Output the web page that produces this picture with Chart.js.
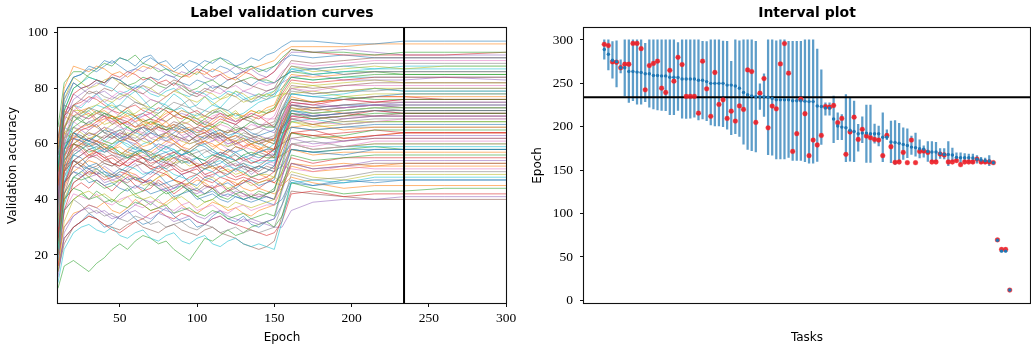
<!DOCTYPE html>
<html><head><meta charset="utf-8">
<script src="https://cdn.jsdelivr.net/npm/chart.js@4"></script>
<style>
html,body{margin:0;padding:0;background:#fff;width:1031px;height:345px;overflow:hidden}
#c1{position:absolute;left:0;top:0}
#c2{position:absolute;left:520px;top:0}
</style></head><body>
<canvas id="c1" width="520" height="345"></canvas>
<canvas id="c2" width="511" height="345"></canvas>
<script>
// ---------- data: left panel ----------
const epochs = [10,14,20,25,30,35,40,45,50,55,60,65,70,75,80,85,90,95,100,105,110,115,120,125,130,135,140,145,150,155,161,175,195,215,234,260,300];
const curves = [
[55,78,84, 85,88,87,90,89,91,90,88,91,92,89,90,87,89,86,88,90,89,91,90,88,89,91,90,92,93, 95,97, 97,96,96,97,97,97],
[60,80,88, 87,86,88,87,85,86,84,86,88,87,89,88,86,85,84,86,85,87,86,84,83,85,87,88,89,90, 93,95, 95,95,96,96,96,96],
[50,72,80, 82,85,87,89,88,91,90,92,89,88,86,87,85,84,86,85,88,90,91,89,88,87,88,86,87,88, 91,94, 93,93,92,93,93,93],
[45,70,78, 80,81,83,82,85,84,86,85,83,84,82,83,81,84,85,87,86,84,85,83,84,86,85,83,84,86, 90,94, 93,92,92,92,92,93],
[42,68,76, 78,80,82,81,84,83,85,87,86,88,87,85,84,86,85,87,84,83,85,86,88,86,87,85,84,86, 89,93, 93,94,93,92,92,92],
[40,65,74, 76,79,78,80,79,82,81,79,78,80,82,81,83,82,79,78,80,79,81,80,82,83,81,80,79,80, 85,90, 89,90,91,91,91,91],
[35,62,72, 74,76,77,75,77,79,78,80,78,76,75,77,79,81,80,78,77,79,78,80,81,79,80,82,81,82, 86,89, 88,89,90,90,90,90],
[38,60,70, 71,73,72,70,72,74,73,75,74,72,71,73,75,74,76,73,72,71,73,72,74,76,75,77,76,78, 83,88, 87,88,89,89,89,89],
[44,66,74, 71,73,74,76,75,77,78,76,74,73,75,77,79,78,76,75,77,74,76,78,77,75,76,78,77,79, 83,88, 86,87,88,87,88,88],
[30,58,68, 70,72,74,73,75,72,71,69,71,73,75,74,72,73,71,70,72,74,73,72,70,71,73,75,76,77, 82,87, 85,86,87,87,87,87],
[52,74,82, 80,81,83,82,84,83,81,80,82,84,83,85,84,82,81,83,82,80,81,83,84,82,81,83,82,82, 84,86, 87,85,86,86,86,86],
[33,55,64, 66,67,66,68,70,69,71,70,68,67,69,71,72,70,69,68,66,68,70,69,71,70,72,71,73,74, 80,85, 84,85,86,86,86,86],
[36,58,66, 68,70,72,71,69,70,72,70,68,69,71,73,72,70,69,67,69,71,72,70,71,69,70,72,71,73, 79,84, 83,84,85,85,85,85],
[28,52,62, 65,66,68,70,69,67,68,70,71,69,68,70,72,70,69,67,66,67,69,68,67,69,70,69,71,72, 78,83, 82,83,84,84,84,84],
[48,70,78, 76,75,78,79,77,76,78,80,81,79,78,80,82,80,78,77,79,81,80,78,77,79,78,77,79,80, 82,84, 85,83,83,83,84,83],
[26,50,60, 62,64,63,62,64,65,63,61,62,64,66,65,63,62,61,63,64,62,63,65,64,66,65,66,67,68, 75,81, 80,81,82,82,82,82],
[40,60,68, 66,65,67,69,68,66,65,64,66,67,65,64,66,68,67,65,64,65,67,66,64,65,67,66,68,70, 76,80, 79,81,81,81,81,81],
[34,56,64, 66,68,66,64,63,61,62,64,66,65,63,64,66,65,63,61,62,64,63,61,62,64,63,61,62,63, 72,80, 78,79,79,80,80,80],
[46,66,72, 72,70,71,73,74,72,70,71,73,72,70,68,70,72,71,69,70,72,73,71,69,70,72,71,72,73, 77,80, 81,79,80,80,80,80],
[22,46,56, 58,60,58,57,59,61,60,58,57,55,57,59,58,56,57,59,60,58,56,55,57,58,56,57,58,60, 70,78, 77,78,80,79,79,79],
[38,58,64, 62,61,63,65,64,62,63,65,66,64,63,62,64,66,65,63,62,64,65,63,64,66,64,63,64,65, 72,78, 77,76,77,78,78,78],
[30,50,58, 60,62,61,59,58,60,62,61,59,60,62,63,61,59,58,60,61,59,60,62,61,59,60,58,60,62, 70,77, 75,76,77,77,77,77],
[42,62,70, 68,67,69,71,70,68,66,64,66,68,67,65,66,68,70,69,67,66,68,67,65,66,68,67,66,66, 72,76, 75,77,76,76,76,76],
[25,45,54, 56,58,57,55,53,52,54,56,55,53,54,56,57,55,54,52,53,55,57,56,54,55,53,54,56,58, 68,75, 74,76,75,76,76,76],
[35,55,62, 61,59,60,62,64,63,61,60,62,61,59,58,60,62,63,61,60,61,63,62,60,61,62,63,62,62, 69,75, 74,73,74,75,75,75],
[20,42,52, 54,56,55,53,52,54,56,55,53,52,54,53,55,56,54,52,51,53,55,54,52,53,51,52,54,56, 66,74, 73,74,75,75,75,75],
[48,66,72, 70,69,71,73,72,70,69,68,70,71,69,68,70,72,71,69,68,70,71,69,68,70,71,70,69,69, 72,74, 75,73,74,74,74,74],
[28,48,57, 59,61,60,58,56,55,57,59,58,56,57,59,60,58,56,57,58,56,55,57,59,58,56,57,58,58, 67,74, 72,73,74,74,74,74],
[32,52,60, 62,64,63,61,60,62,64,63,61,60,62,64,63,61,60,61,63,62,60,59,61,62,60,61,62,61, 67,73, 71,72,73,73,73,73],
[18,38,48, 50,52,51,49,48,50,52,51,49,50,52,51,49,48,47,49,51,50,48,49,51,50,48,49,50,52, 63,72, 71,72,73,73,73,73],
[40,58,64, 63,61,60,58,60,62,61,59,57,58,60,59,57,56,58,60,59,57,56,58,57,55,56,55,56,56, 65,72, 70,71,72,72,72,72],
[24,44,52, 54,56,58,59,57,56,58,60,58,57,59,61,60,58,57,59,61,60,58,57,59,58,56,58,59,58, 66,72, 73,71,72,72,72,72],
[36,54,60, 59,57,58,60,59,57,55,56,58,57,55,54,56,58,57,55,54,56,55,53,54,56,57,56,55,55, 63,71, 69,70,71,71,71,71],
[16,36,46, 48,50,49,47,48,50,49,47,46,48,50,49,47,46,48,49,47,46,48,47,45,46,48,47,48,50, 61,70, 69,70,72,71,71,71],
[44,62,66, 65,63,64,66,65,63,62,61,63,64,62,61,63,62,60,61,63,64,62,60,61,63,62,61,62,61, 66,70, 71,69,70,70,70,70],
[26,46,54, 53,51,52,54,53,51,50,52,53,51,50,52,53,51,50,49,51,52,50,49,51,52,51,50,52,51, 60,69, 67,69,70,70,70,70],
[30,50,58, 57,55,56,58,57,55,53,54,56,55,53,52,54,56,55,53,52,54,55,53,52,54,55,54,54,53, 61,69, 68,67,68,69,69,69],
[50,66,70, 69,66,67,64,65,67,63,62,64,66,63,61,62,65,63,60,61,63,62,59,60,62,61,60,61,62, 66,69, 70,68,69,69,69,69],
[20,40,48, 50,48,51,49,46,47,49,48,45,46,48,50,47,45,46,44,47,48,46,44,45,47,45,46,47,48, 58,68, 66,67,68,68,68,68],
[38,56,62, 61,60,57,58,59,56,55,57,58,55,53,55,56,53,54,55,52,53,54,52,51,53,52,51,53,54, 61,68, 69,67,68,68,68,68],
[34,52,56, 55,52,53,50,49,51,50,47,48,50,49,46,47,49,46,45,48,47,45,46,44,46,47,45,46,47, 56,66, 65,66,67,67,67,67],
[56,70,68, 70,71,68,69,70,67,68,66,67,65,66,68,65,64,65,63,64,66,63,62,63,61,62,60,61,62, 64,66, 67,65,66,66,66,66],
[22,42,48, 47,48,46,44,45,47,45,42,43,46,44,42,43,45,43,41,42,44,41,40,42,43,41,40,42,43, 53,64, 62,63,65,65,65,65],
[40,56,60, 59,56,57,55,56,54,52,54,55,52,51,53,52,50,51,52,49,50,52,50,48,49,51,49,50,52, 58,64, 65,62,63,64,64,64],
[28,46,52, 51,48,49,46,47,48,45,44,46,47,44,43,44,46,43,42,44,45,42,41,43,42,40,41,42,43, 52,62, 60,61,63,63,63,63],
[62,74,72, 70,69,71,70,67,69,68,66,68,69,66,65,67,66,64,66,65,63,64,62,63,62,60,61,59,58, 60,62, 63,61,62,62,62,62],
[18,36,42, 41,40,42,39,38,40,41,38,37,39,40,37,36,38,39,36,37,38,36,35,37,38,36,37,38,38, 48,60, 58,59,61,61,61,61],
[46,60,62, 61,58,59,57,58,56,55,57,55,54,56,53,52,54,55,52,53,54,51,52,53,51,50,52,51,50, 55,60, 61,59,60,60,60,60],
[14,32,40, 42,43,41,42,40,39,41,42,40,41,39,38,40,41,39,37,39,40,38,37,39,38,37,38,39,40, 50,60, 58,59,60,60,60,60],
[52,66,64, 62,61,63,61,60,61,59,58,60,61,58,57,58,56,57,58,55,56,57,55,54,56,54,53,54,54, 56,60, 58,59,59,59,59,59],
[30,46,50, 49,46,47,45,46,44,43,45,44,42,43,44,41,42,43,40,41,42,40,39,41,40,39,40,41,40, 48,58, 57,56,58,58,58,58],
[58,72,70, 72,73,71,72,70,69,70,68,69,67,68,66,67,65,66,64,65,63,64,62,60,61,59,58,57,55, 56,58, 56,57,57,57,57,57],
[24,40,44, 43,40,41,39,40,38,37,39,38,36,37,38,35,36,37,35,34,36,35,33,34,35,33,34,35,34, 44,56, 54,55,56,56,56,56],
[44,58,60, 58,55,56,54,55,53,52,54,53,51,52,50,51,49,50,51,48,49,50,48,47,48,47,46,47,46, 49,55, 53,55,55,55,55,55],
[12,28,34, 36,37,35,36,34,33,35,36,34,33,35,34,32,33,34,32,31,33,34,32,31,33,32,31,32,33, 43,53, 51,52,54,54,54,54],
[36,50,54, 52,49,50,48,49,47,46,48,47,45,46,44,45,46,44,43,45,44,42,43,44,42,41,42,41,40, 46,53, 51,52,53,53,53,53],
[60,72,74, 72,71,69,70,68,69,67,66,67,65,66,64,65,63,64,62,63,61,62,60,61,59,60,58,57,55, 52,51, 50,52,51,51,51,51],
[20,36,40, 38,35,36,34,35,33,32,34,33,31,32,30,31,32,30,29,31,30,28,29,30,28,29,28,29,30, 38,49, 47,48,50,50,50,50],
[48,62,64, 62,59,60,58,59,57,56,57,55,56,54,55,53,54,52,53,51,52,50,51,49,50,48,49,49,48, 46,50, 48,47,49,49,49,49],
[10,22,28, 30,31,29,28,30,27,26,28,29,26,25,27,28,25,24,26,27,24,23,25,26,24,23,24,23,22, 32,46, 47,46,48,48,48,48],
[38,52,54, 52,51,49,50,48,49,47,48,46,47,45,46,44,45,43,44,42,43,41,42,41,40,41,40,39,38, 40,47, 45,46,47,47,47,47],
[54,64,62, 60,59,61,60,58,59,57,56,57,55,56,54,55,53,54,52,53,51,52,50,51,49,48,49,48,46, 45,48, 46,44,45,45,45,45],
[8,16,18, 16,14,17,19,22,24,22,25,27,26,24,25,22,20,18,22,26,25,27,29,27,28,30,31,32,30, 34,46, 44,42,43,43,44,44],
[16,26,30, 32,34,33,31,29,28,30,32,33,35,36,34,33,35,34,32,31,33,34,32,31,30,29,28,27,28, 32,42, 43,41,42,42,42,42],
[20,30,34, 36,38,37,35,33,34,36,38,40,39,37,36,35,37,36,34,33,35,36,34,33,32,33,32,31,30, 30,36, 39,40,40,41,41,41],
[14,24,30, 32,34,33,31,30,29,31,32,30,29,28,30,31,29,28,27,29,30,28,27,26,24,23,22,23,25, 34,43, 42,41,40,40,40,40],
[26,42,48, 50,52,51,49,47,46,48,49,47,46,45,43,44,46,45,43,42,44,45,43,42,41,42,41,41,40, 48,60, 59,61,62,62,62,62],
[60,76,82, 80,78,79,77,76,78,77,75,74,76,75,73,72,74,73,71,70,72,71,69,68,70,69,67,67,66, 64,66, 65,66,66,66,66,66],
[58,76,84, 82,80,81,83,84,82,80,79,81,80,78,77,79,80,78,77,79,78,76,77,79,78,76,77,78,77, 78,78, 79,77,78,78,78,78],
[50,72,80, 82,84,83,81,80,78,79,81,80,78,77,79,80,78,77,79,78,76,77,79,78,76,77,78,77,78, 80,84, 83,84,84,84,84,84],
[40,54,58, 60,62,61,59,57,56,58,57,55,54,56,57,55,54,53,55,54,52,53,55,54,52,51,52,51,50, 52,58, 57,58,58,58,58,58],
[32,46,50, 52,54,53,51,49,48,50,49,47,46,48,49,47,46,45,47,46,44,45,47,46,44,43,44,43,42, 44,52, 50,51,52,52,52,52],
[66,82,86, 86,84,83,82,84,83,81,82,84,83,81,80,82,81,79,80,82,83,81,80,82,83,84,83,83,82, 84,86, 85,86,86,85,85,85],
[56,70,74, 75,77,76,74,72,71,73,74,72,71,73,72,70,69,71,72,70,69,71,70,68,69,71,70,68,66, 70,76, 75,76,77,77,76,76],
[46,60,64, 66,68,69,71,70,68,67,69,70,71,69,68,70,71,70,68,67,69,70,68,67,69,68,66,65,64, 68,74, 73,74,74,73,73,73],
[34,50,56, 58,60,61,63,62,64,63,65,66,65,67,66,68,67,65,66,68,67,65,64,66,65,63,62,61,60, 65,71, 70,71,70,71,71,71],
[42,56,58, 60,62,61,60,62,64,63,65,64,62,63,64,62,61,63,65,64,62,61,62,60,59,58,57,58,56, 62,70, 69,70,70,70,70,70],
[24,40,46, 48,50,51,53,52,54,55,54,53,55,56,55,57,58,56,55,57,58,56,55,56,54,53,54,56,55, 62,72, 71,72,73,72,72,72],
[52,64,66, 64,62,63,65,67,68,66,65,67,68,66,65,66,68,67,65,64,66,65,64,65,63,62,63,61,60, 62,68, 67,68,68,68,68,68],
[30,48,54, 56,58,59,61,63,65,66,64,63,65,67,66,65,67,65,64,66,65,63,62,64,63,61,60,59,57, 63,74, 73,74,74,74,74,74],
[14,26,30, 32,35,33,30,31,34,36,33,31,32,35,37,34,32,33,30,31,34,36,33,32,34,31,30,32,33, 38,46, 45,47,46,47,47,47],
[18,30,35, 36,38,37,39,36,35,37,40,38,36,37,39,41,38,36,35,37,39,38,36,37,35,34,36,37,38, 44,53, 52,53,52,53,53,53],
[26,36,40, 42,40,43,41,39,42,44,41,40,38,41,43,40,42,44,41,39,40,42,44,42,40,41,43,42,44, 50,58, 57,58,59,58,58,58],
[30,40,44, 46,44,47,45,43,46,48,45,43,44,47,45,42,44,46,48,45,44,46,43,45,47,46,44,46,48, 55,64, 63,64,65,64,64,64],
[34,46,50, 48,51,49,52,50,48,51,53,50,49,52,54,51,49,50,52,49,48,51,53,50,52,49,51,53,52, 61,71, 70,71,72,71,71,71],
[38,50,54, 52,55,57,56,53,52,54,57,58,55,53,51,53,56,57,55,52,54,56,58,56,54,55,57,56,58, 66,73, 72,73,74,73,73,73],
[42,54,58, 61,62,60,57,58,61,63,61,58,56,58,60,62,59,57,59,62,63,60,58,57,59,61,60,62,61, 69,76, 75,76,75,76,76,76],
[46,58,63, 62,65,67,64,62,63,66,68,65,62,61,64,66,63,61,63,66,64,62,64,67,65,63,64,66,67, 73,79, 78,79,80,79,79,79],
[50,64,68, 71,72,69,67,68,71,73,70,67,66,69,72,70,67,68,71,69,66,67,70,72,69,68,70,71,72, 77,82, 81,82,83,82,82,82],
[58,70,74, 73,76,78,75,73,74,77,79,76,73,72,75,78,76,73,74,77,75,73,76,79,77,75,76,78,79, 83,87, 87,88,87,88,88,88],
[62,78,84, 85,87,86,88,90,88,86,87,89,91,89,87,86,88,90,89,87,86,88,87,85,86,88,87,86,88, 90,92, 91,92,91,91,91,91],
[48,60,62, 63,61,64,66,63,61,62,65,63,60,62,64,61,59,61,63,60,58,60,62,59,58,60,59,57,58, 60,64, 63,62,63,64,64,64]
];
const bestEpoch = 234;
const leftXTicks = [50,100,150,200,250,300];
const leftYTicks = [20,40,60,80,100];

// ---------- data: right panel ----------
const medianEpoch = [289,283.5,276.6,275,268,268,263.6,263.6,263,262.5,
261,261,259,259,258.6,258.6,257,257,256.7,255,
255,255,255,253.6,253.6,252,250,250,250,250,
248,248,247,244.4,239.5,237,235.6,234.5,234.5,234.5,
234,232.6,231,231,231,231,230,230,230,229.5,
229,229,224,223.4,221.5,221.5,209,200.8,199.6,198.9,
196,194.6,192,192.7,192.7,192,192,192,188,188,
182.4,182,181,179.7,178.5,176.6,176,174.7,174.3,171.6,
171,171,169.3,168,168,167.4,164.8,164.4,164.4,164.4,
164,162.5,161.7,161,160.5,158.6,69.3,56.7,56.7,11.9];
const bestTaskEpoch = [295,293.5,274.7,274.3,268,272,272,296,296,290,
242.5,270.5,273,275.5,244.4,239.5,265,252.5,280,271.6,
235,235,235,215.7,275.5,243.7,212,262.5,225.7,231,
209.6,218,206.5,224,220,265.5,263.6,205,238.7,255.5,
198.8,223.8,220.7,272.4,295.8,261.7,171.6,192,231.8,215,
166.7,184.7,179,190,223.3,222.6,224.5,204.6,209.6,168.2,
194,211,185.4,197,189.3,187.4,185.4,184.7,166.7,190,
177,159,159.4,170.5,158.6,184.7,158.6,171.6,172,170.5,
159.4,159.4,168.6,167.5,159.4,159.4,161,156.3,159.4,159.4,
159.4,162.8,159.4,159.4,159.4,158.6,69.7,58.6,58.6,11.9];
const intervalLow = [278,265.5,256,246,262,235.6,228,230,226,226,
229,222.6,220.7,219.5,218.8,218.4,213.8,213.8,218.8,210,
209.6,210,211,208,209,207,202,201,201,200,
197.3,191,192,189,180,174,172.6,171,220,212,
168,167.4,163,163,163,164.8,161.3,161.3,161.3,159.8,
158,158,160,179.7,213.4,213.4,181.6,185,185,159.8,
160.5,159.8,172,181.6,159,159,181,177.8,159.8,185,
158.6,156.7,159.4,162.4,164.4,168.2,166,164,165,160,
160,160,163.5,163,155.2,160,160.5,158,159.4,159,
158,158,158,158,155.2,null,null,null,null,null];
const intervalHigh = [300,300,298,299,277,300,300,300,300,300,
296,300,300,300,300,300,300,300,297,300,
300,300,300,300,298.5,298,300,300,300,298.8,
298.5,275.5,300,299,300,300,300,298.5,249.4,261,
300,300,299,300,300,298.5,298.5,298.5,298.5,300,
300,300,289.6,265.5,227.6,227.6,235.3,216,214,237,
233,229.5,202.7,211.5,225,225,203,200.8,216,196.6,
206.5,207,204,198.9,197.7,189.3,192.7,185,178,183,
183,182,175,175,182.8,175.5,170,170,169,168.6,
168.6,166.7,164.8,164,166.7,null,null,null,null,null];
const rightYTicks = [0,50,100,150,200,250,300];

// ---------- styling ----------
const tab10 = ['#1f77b4','#ff7f0e','#2ca02c','#d62728','#9467bd','#8c564b','#e377c2','#7f7f7f','#bcbd22','#17becf'];
const tickFont = {family:'Liberation Serif', size:13.5};
const labelFont = {family:'DejaVu Sans', size:12};
const titleFont = {family:'DejaVu Sans', size:14, weight:'bold'};

const framePlugin = {
  id:'frame',
  afterDraw(chart){
    const {ctx, chartArea:a} = chart;
    ctx.save();
    ctx.strokeStyle = '#111';
    ctx.lineWidth = 1.1;
    ctx.strokeRect(Math.round(a.left)-0.5, Math.round(a.top)-0.5, Math.round(a.right-a.left)+1, Math.round(a.bottom-a.top)+1);
    ctx.restore();
  }
};

function tickAxis(ticksArr, extra){
  return Object.assign({
    type:'linear',
    grid:{display:true, drawOnChartArea:false, drawTicks:true, tickLength:4, color:'#111', lineWidth:1},
    border:{display:false},
    afterBuildTicks(s){ s.ticks = ticksArr.map(v=>({value:v})); },
    ticks:{font:tickFont, color:'#000', maxRotation:0, autoSkip:false}
  }, extra);
}

// ---------- left chart ----------
const vlinePlugin = {
  id:'vline',
  afterDatasetsDraw(chart){
    const {ctx, chartArea:a, scales} = chart;
    const x = scales.x.getPixelForValue(bestEpoch);
    ctx.save();
    ctx.strokeStyle = '#000';
    ctx.lineWidth = 2;
    ctx.beginPath(); ctx.moveTo(x, a.top); ctx.lineTo(x, a.bottom); ctx.stroke();
    ctx.restore();
  }
};

new Chart(document.getElementById('c1'), {
  type:'line',
  data:{
    datasets: curves.map((c,i)=>({
      data: epochs.map((e,k)=>({x:e, y:c[k]})),
      borderColor: tab10[i%10] + 'b8',
      borderWidth: 0.8,
      pointRadius: 0,
      fill:false,
      tension:0
    }))
  },
  options:{
    responsive:false, devicePixelRatio:1, animation:false,
    layout:{autoPadding:false, padding:{left:0, right:14, top:0, bottom:0}},
    plugins:{
      legend:{display:false}, tooltip:{enabled:false},
      title:{display:true, text:'Label validation curves', font:titleFont, color:'#000', padding:{top:5,bottom:6}, fullSize:false}
    },
    scales:{
      x: tickAxis(leftXTicks, {min:10, max:300,
        afterFit(s){ s.height = 42; },
        ticks:{font:tickFont, color:'#000', padding:3, maxRotation:0, autoSkip:false},
        title:{display:true, text:'Epoch', font:labelFont, color:'#000', padding:{top:0,bottom:0}}}),
      y: tickAxis(leftYTicks, {min:2.7, max:101.8,
        afterFit(s){ s.width = 58; },
        ticks:{font:tickFont, color:'#000', padding:6, autoSkip:false},
        title:{display:true, text:'Validation accuracy', font:labelFont, color:'#000', padding:{top:6,bottom:0}}})
    }
  },
  plugins:[vlinePlugin, framePlugin]
});

// ---------- right chart ----------
const hlinePlugin = {
  id:'hline',
  afterDatasetDraw(chart, args){
    if (args.index !== 2) return;
    const {ctx, chartArea:a, scales} = chart;
    const y = scales.y.getPixelForValue(bestEpoch);
    ctx.save();
    ctx.strokeStyle = '#000';
    ctx.lineWidth = 2;
    ctx.beginPath(); ctx.moveTo(a.left, y); ctx.lineTo(a.right, y); ctx.stroke();
    ctx.restore();
  }
};

const taskIdx = medianEpoch.map((_,i)=>i);
new Chart(document.getElementById('c2'), {
  type:'scatter',
  data:{
    datasets:[
      {type:'scatter', order:0, data: taskIdx.map(i=>({x:i, y:medianEpoch[i]})),
        pointRadius:1.7, backgroundColor:'#1f77b4', borderWidth:0},
      {type:'scatter', order:1, data: taskIdx.map(i=>({x:i, y:bestTaskEpoch[i]})),
        pointRadius:2.4, backgroundColor:'rgba(238,28,36,0.9)', borderColor:'rgba(238,28,36,0.35)', borderWidth:0.8},
      {type:'bar', order:2, data: taskIdx.filter(i=>intervalLow[i]!==null).map(i=>({x:i, y:[intervalLow[i], intervalHigh[i]]})),
        barThickness:1.6, backgroundColor:'rgba(31,119,180,0.72)', borderWidth:0, grouped:false}
    ]
  },
  options:{
    responsive:false, devicePixelRatio:1, animation:false,
    layout:{autoPadding:false, padding:{left:0, right:1, top:0, bottom:0}},
    plugins:{
      legend:{display:false}, tooltip:{enabled:false},
      title:{display:true, text:'Interval plot', font:titleFont, color:'#000', padding:{top:5,bottom:6}, fullSize:false}
    },
    scales:{
      x:{type:'linear', min:-4.95, max:103.95, offset:false,
        grid:{display:false}, border:{display:false},
        ticks:{display:false},
        afterFit(s){ s.height = 42; },
        title:{display:true, text:'Tasks', font:labelFont, color:'#000', padding:{top:0,bottom:0}}},
      y: tickAxis(rightYTicks, {min:-3, max:314,
        afterFit(s){ s.width = 64; },
        ticks:{font:tickFont, color:'#000', padding:7, autoSkip:false},
        title:{display:true, text:'Epoch', font:labelFont, color:'#000', padding:{top:11,bottom:0}}})
    }
  },
  plugins:[hlinePlugin, framePlugin]
});
</script>
</body></html>
